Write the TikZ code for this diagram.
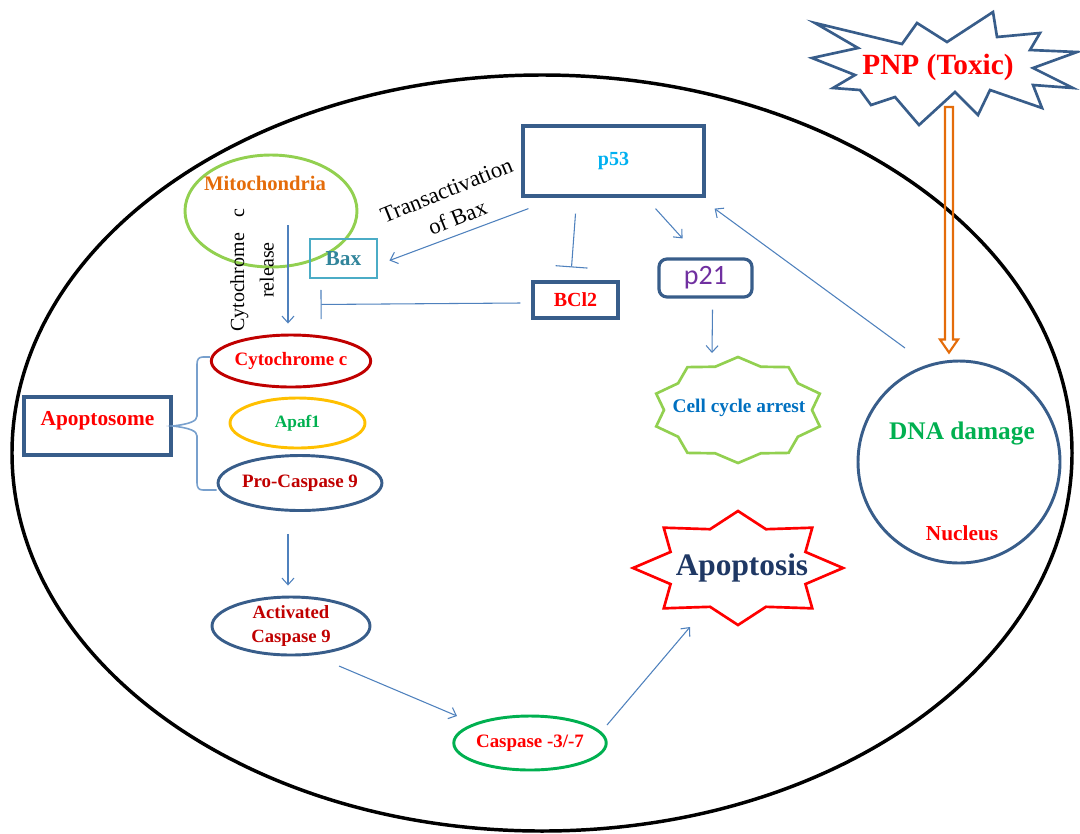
\documentclass[tikz,border=0pt]{standalone}
\usepackage{fontspec}
\setmainfont{Liberation Serif}
\newfontfamily\calfont{Carlito}
\usetikzlibrary{shapes.geometric,arrows.meta,calc}
\newcommand{\fsz}[2]{\fontsize{#1}{#2}\selectfont}
\definecolor{boxblue}{RGB}{56,93,138}
\definecolor{arrblue}{RGB}{79,129,189}
\definecolor{bracecol}{RGB}{120,160,205}
\definecolor{mitogreen}{RGB}{146,208,80}
\definecolor{mitoorange}{RGB}{228,108,10}
\definecolor{baxblue}{RGB}{75,172,198}
\definecolor{baxtext}{RGB}{49,133,155}
\definecolor{darkred}{RGB}{192,0,0}
\definecolor{gold}{RGB}{255,192,0}
\definecolor{green2}{RGB}{0,176,80}
\definecolor{p53c}{RGB}{0,176,240}
\definecolor{p21c}{RGB}{112,48,160}
\definecolor{ccblue}{RGB}{0,112,192}
\definecolor{navy}{RGB}{31,56,100}
\definecolor{orangeA}{RGB}{228,108,10}
\begin{document}
\begin{tikzpicture}[x=0.75pt,y=-0.75pt,
  sz/.style 2 args={minimum width=#1*0.75pt, minimum height=#2*0.75pt},
  bx/.style={draw=boxblue, line width=2.4pt, inner sep=0pt},
  ell/.style={ellipse, line width=2.2pt, inner sep=0pt},
  arr/.style={draw=arrblue, line width=0.8pt, -{Straight Barb[length=5pt,width=9pt]}},
  inh/.style={draw=arrblue, line width=0.8pt, -{Bar[width=#1]}},
  lbl/.style={font=\bfseries\fsz{14.2pt}{17pt}},
  star/.style={line width=2pt, line join=miter}
]
\useasboundingbox (0,0) rectangle (1080,833);

% cell
\node[ell, draw=black, line width=2.6pt, sz={1060}{756}] (cell) at (542,453) {};

% mitochondria
\node[ell, draw=mitogreen, sz={172}{112}] (mito) at (271,211) {};
\node[text=mitoorange, font=\bfseries\fsz{15.5pt}{18pt}] (mitotxt) at (265,183) {Mitochondria};
\node[rotate=90, align=center, font=\fsz{15pt}{22pt}] (cytrel) at (252,270) {Cytochrome\hspace{12pt}c\\release};

% boxes
\node[bx, draw=baxblue, line width=2.2pt, sz={67}{39}, text=baxtext, font=\bfseries\fsz{16pt}{19pt}] (bax) at (343.5,258.5) {Bax};
\node[bx, sz={181}{70}, text=p53c, font=\bfseries\fsz{15pt}{18pt}] (p53) at (613.5,161) {p53};
\node[rotate=22, align=center, font=\fsz{17pt}{22pt}] (trans) at (452,204) {Transactivation\\of Bax};
\node[bx, sz={85}{36}, text=red, font=\bfseries\fsz{15pt}{18pt}] (bcl2) at (575.5,300) {BCl2};
\node[bx, rounded corners=6pt, sz={93}{38}, text=p21c, font=\calfont\fsz{21pt}{24pt}] (p21) at (705.5,278) {p21};
\node[bx, sz={147}{58}, text depth=11pt, text=red, font=\bfseries\fsz{16pt}{19pt}] (apsome) at (97.5,426) {Apoptosome};

% ellipses
\node[ell, draw=darkred, sz={135}{52}, text=red, lbl] (cytc) at (291,361) {Cytochrome c};
\node[ell, draw=gold, sz={135}{50}, text=green2, font=\bfseries\fsz{13pt}{16pt}] (apaf) at (297.5,423) {Apaf1};
\node[ell, draw=boxblue, sz={154}{55}, text=darkred, lbl] (procasp) at (300,483) {Pro-Caspase 9};
\node[ell, draw=boxblue, sz={158}{58}, text=darkred, align=center, font=\bfseries\fsz{14pt}{18pt}] (act) at (291,626) {Activated\\Caspase 9};
\node[ell, draw=green2, sz={130}{54}, text=red, lbl] (casp) at (530,743) {Caspase -3/-7};

% nucleus
\node[circle, draw=boxblue, line width=2.2pt, minimum size=202*0.75pt, inner sep=0pt] (dna) at (959,462) {};
\node[text=green2, font=\bfseries\fsz{19pt}{22pt}] (dnatxt) at (962,433) {DNA damage};
\node[text=red, font=\bfseries\fsz{16pt}{19pt}] (nucl) at (962,533) {Nucleus};

% cell cycle arrest star
\draw[star, draw=mitogreen] plot[samples at={0,...,19}, variable=\k]
  ({738+(mod(\k,2)==0?86:74)*cos(90+18*\k)}, {410-(mod(\k,2)==0?53:45.5)*sin(90+18*\k)}) -- cycle;
\node[text=ccblue, font=\bfseries\fsz{14.5pt}{17pt}] (cca) at (739,408) {Cell cycle arrest};

% apoptosis star
\draw[star, draw=red] plot[samples at={0,...,15}, variable=\k]
  ({738+(mod(\k,2)==0?105:73)*cos(90+22.5*\k)}, {568-(mod(\k,2)==0?57:42)*sin(90+22.5*\k)}) -- cycle;
\node[text=navy, font=\bfseries\fsz{23.5pt}{27pt}] (apop) at (742,568) {Apoptosis};

% PNP explosion
\draw[star, draw=boxblue] (815,23) -- (902,44) -- (917,23) -- (947,42) -- (993,12) -- (997,37)
  -- (1040,33) -- (1030,50) -- (1077,52) -- (1033,68) -- (1073,88) -- (1033,85) -- (1042,108)
  -- (990,90) -- (978,115) -- (955,92) -- (919,125) -- (895,97) -- (871,105) -- (860,90)
  -- (833,88) -- (855,75) -- (812,58) -- (858,48) -- cycle;
\node[text=red, font=\bfseries\fsz{22pt}{26pt}] (pnp) at (938,67) {PNP (Toxic)};

% orange hollow arrow
\coordinate (oaT) at ($(pnp)+(11,40)$);
\coordinate (oaB) at ($(dna.north)+(-10,-7)$);
\draw[draw=orangeA, line width=1.6pt, line join=miter] ($(oaT)+(-4,0)$) -- ($(oaB)+(-4,-13)$)
  -- ($(oaB)+(-9,-13)$) -- (oaB) -- ($(oaB)+(9,-13)$) -- ($(oaB)+(4,-13)$) -- ($(oaT)+(4,0)$) -- cycle;

% brace
\draw[draw=bracecol, line width=1.2pt] ($(cytc.west)+(0,-4)$) -- (203,357)
  .. controls (199,357) and (197,359) .. (197,364) -- (197,416)
  .. controls (197,421) and (190,424) .. (apsome.east)
  .. controls (190,428) and (197,431) .. (197,436) -- (197,483)
  .. controls (197,488) and (199,490) .. (203,490) -- ($(procasp.west)+(0,7)$);

% connectors
\draw[arr] ($(mito.center)+(17,14)$) -- ($(cytc.north)+(-3,-10)$);
\draw[arr] ($(p53.south west)+(7,11)$) -- ($(bax.east)+(11,2)$);
\draw[inh=24pt] ($(p53.south)+(-38,16)$) -- ($(bcl2.north)+(-4,-13)$);
\draw[inh=22pt] ($(bcl2.west)+(-11,3)$) -- ($(bax.south west)+(12,25)$);
\draw[arr] ($(p53.south)+(42,11)$) -- ($(p21.north)+(-23,-19)$);
\draw[arr] ($(dna.center)+(-54,-114)$) -- ($(p53.south east)+(9,11)$);
\draw[arr] ($(p21.south)+(7,11)$) -- ($(cca)+(-27,-55)$);
\draw[arr] ($(procasp.south)+(-12,22)$) -- ($(act.north)+(-3,-10)$);
\draw[arr] ($(act.center)+(48,40)$) -- ($(casp.center)+(-73,-27)$);
\draw[arr] ($(casp.center)+(77,-18)$) -- ($(apop)+(-52,59)$);
\end{tikzpicture}
\end{document}
